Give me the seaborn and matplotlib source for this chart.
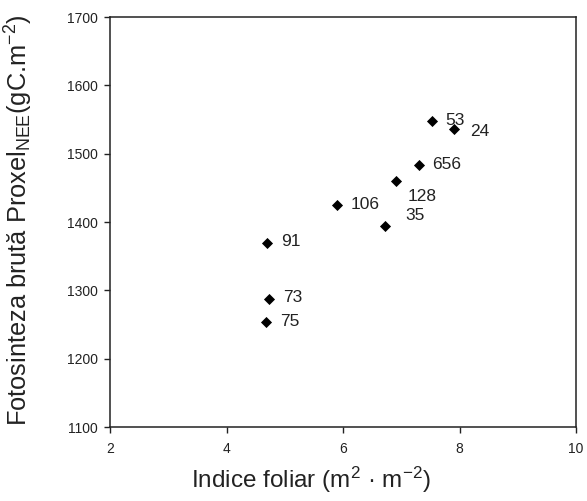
import matplotlib
matplotlib.use("Agg")
import matplotlib.pyplot as plt
import seaborn as sns
import pandas as pd

labels = ["53", "24", "656", "128", "106", "35", "91", "73", "75"]
lai = [7.52, 7.91, 7.31, 6.91, 5.89, 6.72, 4.70, 4.73, 4.68]
gpp = [1548, 1536, 1484, 1460, 1425, 1394, 1370, 1288, 1253]
# label offsets in points
label_dx = [10, 11.5, 9.5, 8.5, 10, 15, 10, 10, 10]
label_dy = [0.5, -1.5, 0, -11.5, 0.5, 8, 0.5, 0.5, 1]

df = pd.DataFrame({"lai": lai, "gpp": gpp, "label": labels})

sns.set_theme(style="white")
plt.rcParams["font.family"] = ["Liberation Sans", "DejaVu Sans"]
plt.rcParams["mathtext.default"] = "regular"

fig = plt.figure(figsize=(5.87, 5.01), dpi=100)
ax = fig.add_axes([0.1874, 0.1477, 0.9813 - 0.1874, 0.966 - 0.1477])

sns.scatterplot(data=df, x="lai", y="gpp", marker="D", color="black",
                s=32, edgecolor="black", linewidth=0, ax=ax, legend=False)

for x, y, t, dx, dy in zip(lai, gpp, labels, label_dx, label_dy):
    ax.annotate(t, (x, y), xytext=(dx, dy), textcoords="offset points",
                ha="left", va="center", fontsize=12.5, color="#222222")

ax.set_xlim(2, 10)
ax.set_ylim(1100, 1700)
ax.set_xticks([2, 4, 6, 8, 10])
ax.set_yticks(range(1100, 1701, 100))
ax.tick_params(axis="both", which="both", direction="out", length=4.5, width=1,
               colors="#222222", labelsize=10, bottom=True, left=True, pad=4)
ax.tick_params(axis="x", pad=6)
for s in ax.spines.values():
    s.set_color("#222222")
    s.set_linewidth(1.1)

ax.set_xlabel("Indice foliar (m$^{2}$ · m$^{-2}$)", fontsize=17.5, color="#222222")
ax.set_ylabel("Fotosinteza brută Proxel$_{NEE}$(gC.m$^{-2}$)", fontsize=18.3, color="#222222")
ax.xaxis.set_label_coords(0.431, -0.093)
ax.yaxis.set_label_coords(-0.16, 0.505)

fig.savefig("out.png", dpi=100)
